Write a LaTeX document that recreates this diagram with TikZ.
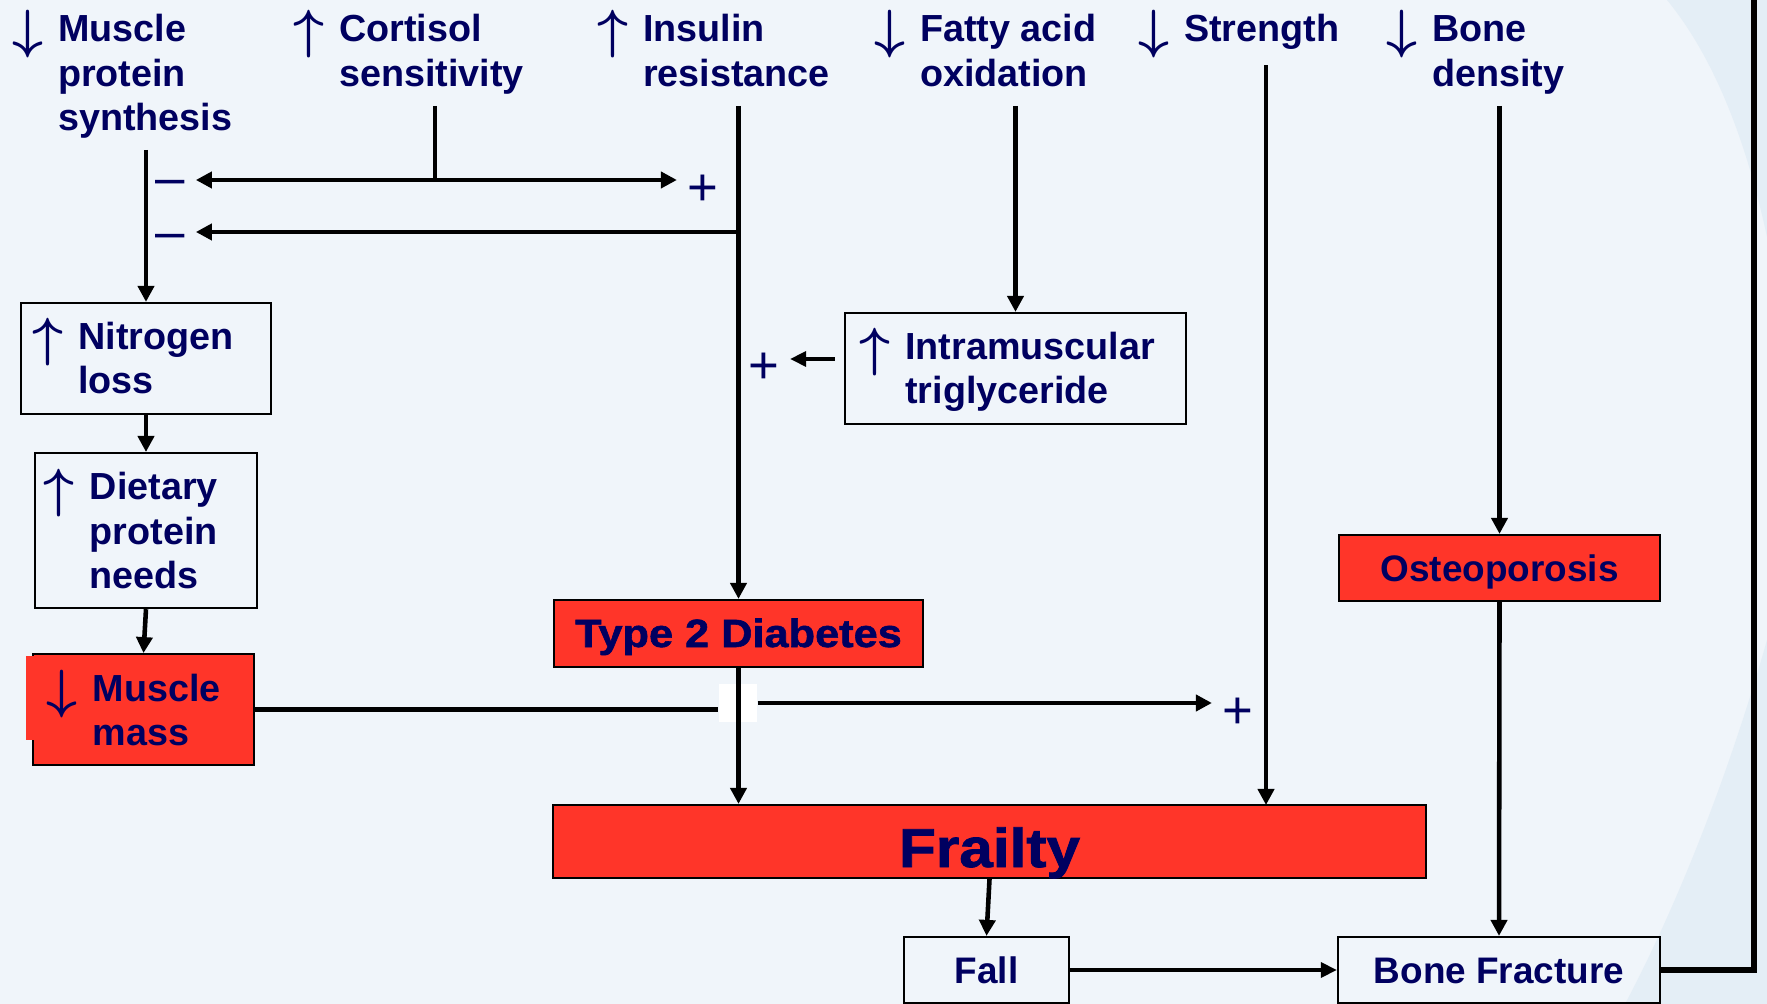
\RequirePackage{fix-cm}
\documentclass[tikz,border=0pt]{standalone}
\usepackage{fontspec}
\setmainfont{Liberation Sans}
\newfontfamily\heavyfont[FakeBold=1.5,FakeStretch=1.1]{Liberation Sans Bold}
\usepackage{tikz}
\usetikzlibrary{positioning,arrows.meta}
\definecolor{navy}{RGB}{0,0,96}
\definecolor{boxred}{RGB}{255,53,41}
\definecolor{bgpale}{RGB}{240,245,250}
\definecolor{bgblue}{RGB}{228,238,246}
\newcommand{\lab}[2]{\raisebox{-0.06cm}{\fontsize{15.3}{16}\selectfont\boldmath$#1$}\hspace{0.15cm}\begin{tabular}[t]{@{}l@{}}#2\end{tabular}}
\tikzstyle{lbl} = [anchor=base west, inner xsep=0pt, inner ysep=0.06cm, text=navy, font=\bfseries\fontsize{10.73}{12.52}\selectfont]
\tikzstyle{whitebox} = [rectangle, draw=black, line width=0.6pt, text=navy, align=left, font=\bfseries\fontsize{10.73}{12.52}\selectfont]
\tikzstyle{redbox} = [rectangle, draw=black, line width=0.6pt, fill=boxred, text=navy, inner sep=0pt, text height=0.27cm, text depth=0pt, font=\bfseries\fontsize{10.5}{12}\selectfont]
\tikzstyle{plainbox} = [rectangle, draw=black, line width=0.6pt, text=navy, inner sep=0pt, minimum height=0.66cm, text height=0.265cm, text depth=0pt, font=\bfseries\fontsize{10.5}{12}\selectfont]
\tikzstyle{sign} = [anchor=base, inner xsep=0.1cm, inner ysep=0pt, text=navy, font=\fontsize{15}{15}\selectfont]
\tikzstyle{gapbox} = [rectangle, fill=white, inner sep=0pt, minimum width=0.38cm, minimum height=0.38cm]
\tikzstyle{arrow} = [line width=1.3pt, -{Triangle[length=0.16cm,width=0.16cm]}]
\tikzstyle{thinarrow} = [line width=0.95pt, -{Triangle[length=0.16cm,width=0.15cm]}]
\tikzstyle{plainline} = [line width=1.3pt]
\tikzstyle{backline} = [line width=1.6pt]

\begin{document}
\begin{tikzpicture}[x=0.01cm, y=-0.01cm, node distance=1.75cm]
\useasboundingbox (0,0) rectangle (1767,1004);
\fill [bgpale] (0,0) rectangle (1767,1004);
\fill [bgblue] (1667,0) .. controls (1712,55) and (1745,135) .. (1767,237) -- (1767,0) -- cycle;
\fill [bgblue] (1625,1004) .. controls (1680,900) and (1730,770) .. (1767,640) -- (1767,1004) -- cycle;

% causes along the top
\node (mps) [lbl] at (11.5,42) {\lab{\downarrow}{Muscle\\protein\\synthesis}};
\node (cort) [lbl] at (292.5,42) {\lab{\uparrow}{Cortisol\\sensitivity}};
\node (ins) [lbl] at (596.5,42) {\lab{\uparrow}{Insulin\\resistance}};
\node (fat) [lbl] at (873.5,42) {\lab{\downarrow}{Fatty acid\\oxidation}};
\node (str) [lbl] at (1137.5,42) {\lab{\downarrow}{Strength}};
\node (bone) [lbl] at (1385.5,42) {\lab{\downarrow}{Bone\\density}};

% left column
\node (nitro) [whitebox, minimum height=1.11cm, text width=2.27cm, inner xsep=0.115cm, text depth=0.485cm] at (146,358.5) {\lab{\uparrow}{Nitrogen\\loss}};
\node (diet) [whitebox, below of=nitro, yshift=0.03cm, minimum height=1.55cm, text width=2.04cm, inner xsep=0.085cm, text depth=0.925cm] {\lab{\uparrow}{Dietary\\protein\\needs}};
\node (mm) [whitebox, fill=boxred, below of=diet, yshift=-0.04cm, xshift=-0.025cm, minimum height=1.11cm, text width=1.93cm, inner xsep=0.135cm, text depth=0.485cm] {\lab{\downarrow}{Muscle\\mass}};
\fill [boxred] (26,656) rectangle (45,740);

\node (intra) [whitebox, minimum height=1.11cm, text width=3.12cm, inner xsep=0.145cm, text depth=0.485cm] at (1015.5,368.5) {\lab{\uparrow}{Intramuscular\\triglyceride}};

% outcomes
\node (t2d) [redbox, minimum width=3.69cm, minimum height=0.67cm, font=\heavyfont\fontsize{11.2}{13}\selectfont] at (738.5,633.5) {Type 2 Diabetes};
\node (osteo) [redbox, minimum width=3.21cm, minimum height=0.66cm] at (1499.5,568) {Osteoporosis};
\node (frailty) [redbox, minimum width=8.73cm, minimum height=0.73cm, text height=0.51cm, font=\heavyfont\fontsize{15.6}{18}\selectfont] at (989.5,841.5) {Frailty};
\node (fall) [plainbox, minimum width=1.65cm] at (986.5,970) {Fall};
\node (bf) [plainbox, minimum width=3.22cm] at (1499,970) {Bone Fracture};

% signs
\node (minus1) [sign] at (170.5,196) {\textendash};
\node (minus2) [sign] at (170.5,250) {\textendash};
\node (plus1) [sign] at (703,205.7) {+};
\node (plus2) [sign] at (764,383.7) {+};
\node (plus3) [sign] at (1238,728.7) {+};

\coordinate (cj) at (435,180);
\coordinate (ij) at (739,232);
\coordinate (fs) at (1266,805);
\coordinate (corner) at (1754,0);
\node (gap) [gapbox] at (738,703) {};

\draw [arrow] (mps.south -| nitro.north) -- (nitro.north);
\draw [arrow] (nitro.south) -- (diet.north);
\draw [arrow] (diet.south) -- (mm.north);
\draw [plainline] (cort.south -| cj) -- (cj);
\draw [arrow] (cj) -- (cj -| minus1.east);
\draw [arrow] (cj) -- (cj -| plus1.west);
\draw [arrow] (ins.south -| t2d.north) -- (t2d.north);
\draw [arrow] (ij) -- (ij -| minus2.east);
\draw [arrow] (fat.south -| intra.north) -- (intra.north);
\draw [thinarrow] ([xshift=-0.09cm,yshift=0.095cm]intra.west) coordinate (ia) -- (ia -| plus2.east);
\draw [arrow] (str.south -| fs) -- (fs);
\draw [arrow] (bone.south -| osteo.north) -- (osteo.north);
\draw [plainline] (mm.east) -- (mm.east -| gap.west);
\draw [arrow] (gap.east) -- (gap.east -| plus3.west);
\draw [arrow] (t2d.south) -- (t2d.south |- frailty.north);
\draw [arrow] (frailty.south) -- (fall.north);
\draw [thinarrow] (fall.east) -- (bf.west);
\draw [arrow] (osteo.south) -- (bf.north);
\draw [backline] (bf.east) -| (corner);

\end{tikzpicture}
\end{document}
